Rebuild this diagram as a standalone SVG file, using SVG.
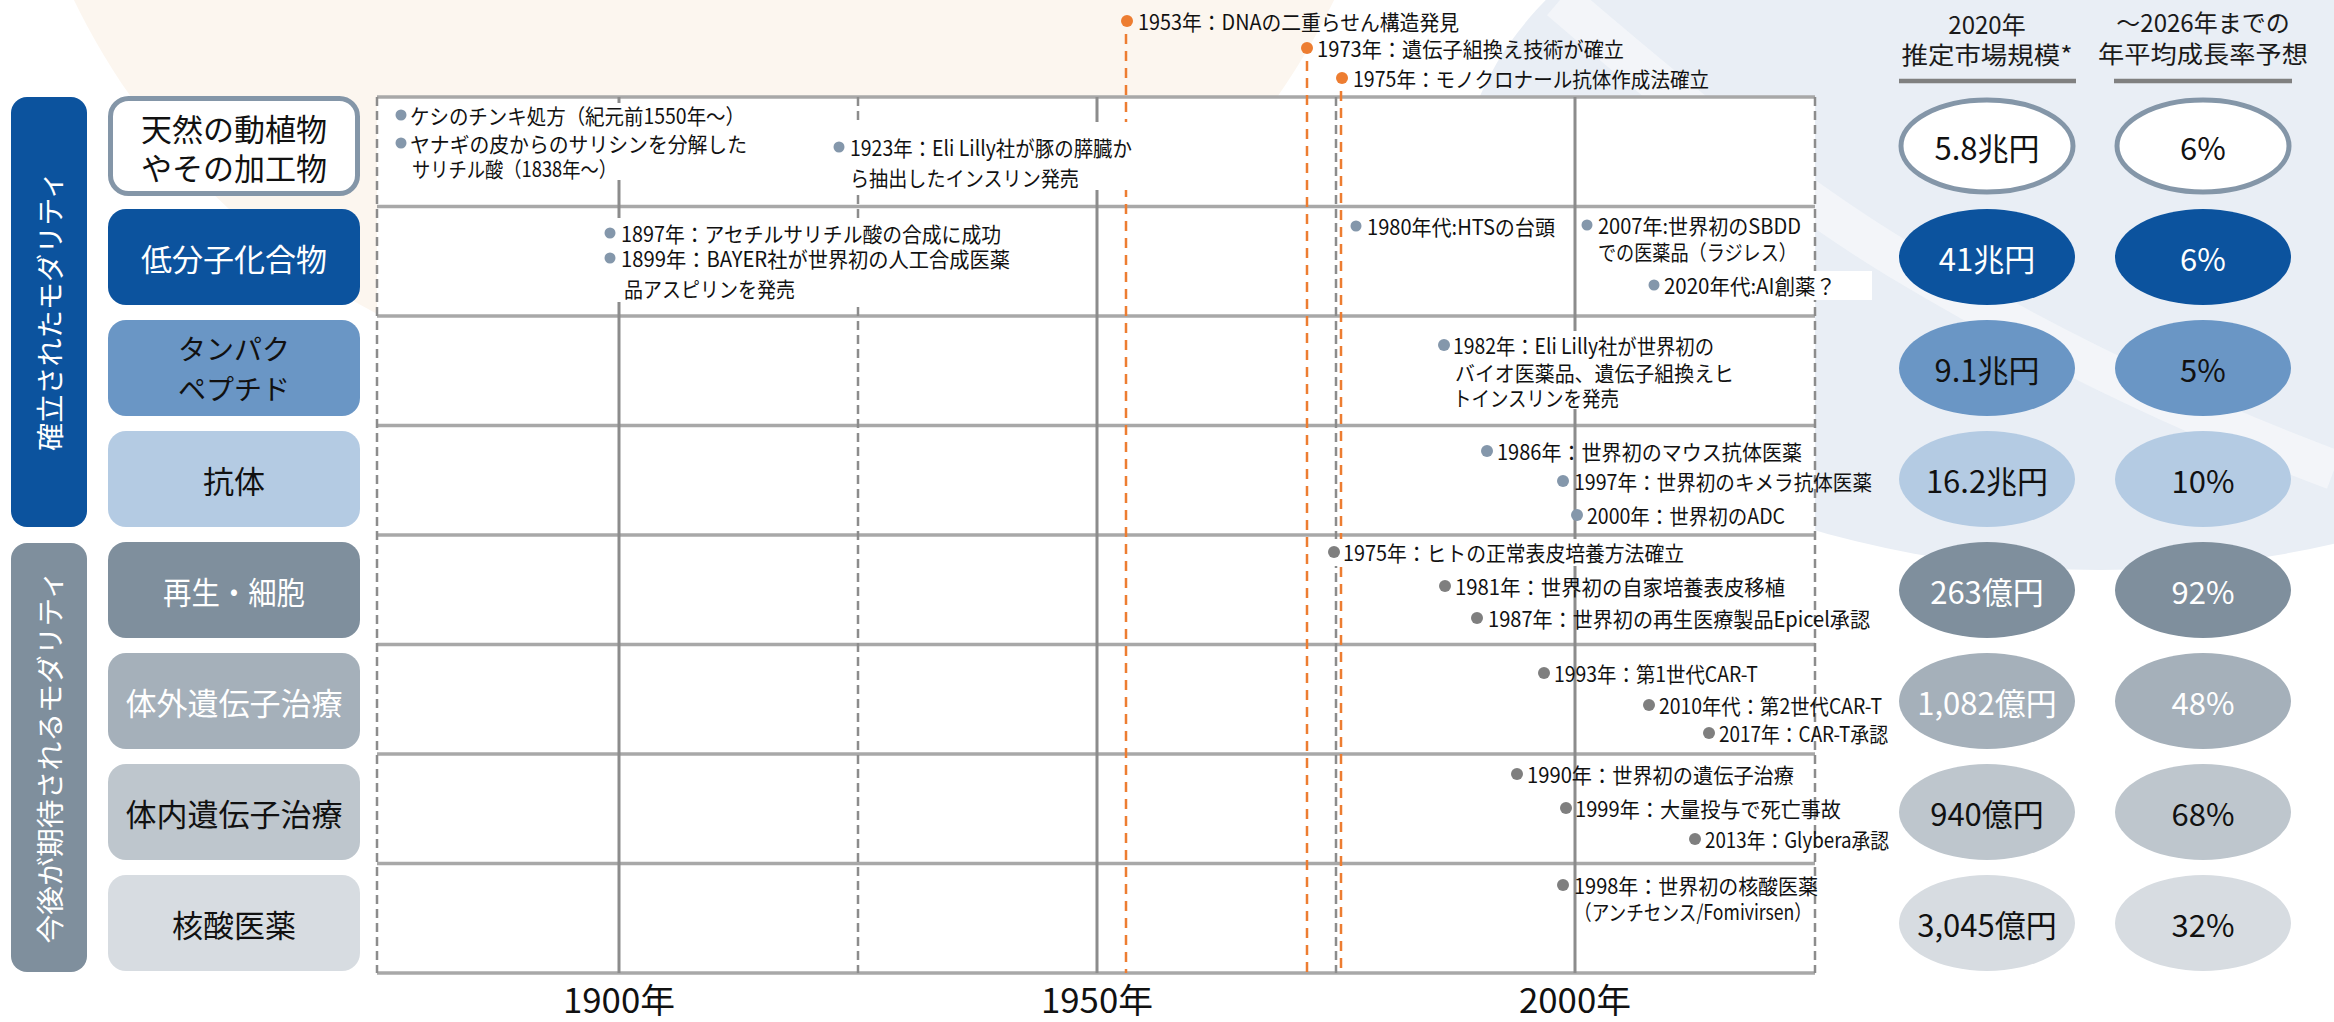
<svg xmlns="http://www.w3.org/2000/svg" width="2334" height="1022" viewBox="0 0 2334 1022">
<defs>
<style>
text{font-family:"Noto Sans CJK JP","Noto Sans",sans-serif;}
.ev{font-size:21px;fill:#111;dominant-baseline:central;}
.box{font-size:31px;text-anchor:middle;dominant-baseline:central;}
.bar{font-size:28px;fill:#fff;text-anchor:middle;dominant-baseline:central;}
.val{font-size:31px;text-anchor:middle;dominant-baseline:central;}
.hd{font-size:24px;fill:#1a1a1a;text-anchor:middle;dominant-baseline:central;}
.ax{font-size:34px;fill:#111;text-anchor:middle;}
.hl{stroke:#a8a8a8;stroke-width:3.5;fill:none;}
.vs{stroke:#8c8c8c;stroke-width:3;fill:none;}
.vd{stroke:#8c8c8c;stroke-width:2.5;stroke-dasharray:9 5;fill:none;}
.or{stroke:#ed7d31;stroke-width:2.5;stroke-dasharray:10 7;fill:none;}
.db{fill:#8497ab;}
.dg{fill:#7f7f7f;}
.do{fill:#ed7d31;}
.wb{fill:#fff;}
.w{fill:#fff;}
.k{fill:#111;}
</style>
</defs>

<g id="background">
<rect x="0" y="0" width="2334" height="1022" fill="#ffffff"/>
<circle cx="704" cy="-305" r="700" fill="#fcf6ef"/>
<ellipse cx="2100" cy="190" rx="640" ry="380" fill="#e9eef5"/>
<path d="M1560,0 C1700,120 1800,200 1900,260 C2050,350 2200,420 2334,470" stroke="#f6f8fb" stroke-width="40" fill="none" opacity="0.7"/>
</g>

<g id="grid">
<rect x="377" y="97" width="1438" height="876" fill="#ffffff"/>
<g id="hlines">
<line class="hl" x1="377" y1="97" x2="1815" y2="97"/>
<line class="hl" x1="377" y1="206.5" x2="1815" y2="206.5"/>
<line class="hl" x1="377" y1="316" x2="1815" y2="316"/>
<line class="hl" x1="377" y1="425.5" x2="1815" y2="425.5"/>
<line class="hl" x1="377" y1="535" x2="1815" y2="535"/>
<line class="hl" x1="377" y1="644.5" x2="1815" y2="644.5"/>
<line class="hl" x1="377" y1="754" x2="1815" y2="754"/>
<line class="hl" x1="377" y1="863.5" x2="1815" y2="863.5"/>
<line class="hl" x1="377" y1="973" x2="1815" y2="973"/>
</g>
<g id="vlines">
<line class="vd" x1="377" y1="97" x2="377" y2="973"/>
<line class="vs" x1="619" y1="97" x2="619" y2="973"/>
<line class="vd" x1="858" y1="97" x2="858" y2="973"/>
<line class="vs" x1="1097" y1="97" x2="1097" y2="973"/>
<line class="vd" x1="1336" y1="97" x2="1336" y2="973"/>
<line class="vs" x1="1575" y1="97" x2="1575" y2="973"/>
<line class="vd" x1="1815" y1="97" x2="1815" y2="973"/>
</g>
</g>

<g id="connectors">
<line class="or" x1="1126" y1="34" x2="1126" y2="973"/>
<line class="or" x1="1307" y1="61" x2="1307" y2="973"/>
<line class="or" x1="1341" y1="91" x2="1341" y2="973"/>
</g>

<g id="axis-labels">
<text class="ax" x="619" y="1013" textLength="112" lengthAdjust="spacingAndGlyphs">1900年</text>
<text class="ax" x="1097" y="1013" textLength="112" lengthAdjust="spacingAndGlyphs">1950年</text>
<text class="ax" x="1575" y="1013" textLength="112" lengthAdjust="spacingAndGlyphs">2000年</text>
</g>

<g id="milestones">
<circle class="do" cx="1127" cy="21" r="6"/>
<text class="ev" x="1138" y="21" textLength="321" lengthAdjust="spacingAndGlyphs">1953年：DNAの二重らせん構造発見</text>
<circle class="do" cx="1307" cy="48" r="6"/>
<text class="ev" x="1317" y="48" textLength="307" lengthAdjust="spacingAndGlyphs">1973年：遺伝子組換え技術が確立</text>
<circle class="do" cx="1342" cy="78" r="6"/>
<text class="ev" x="1353" y="78" textLength="356" lengthAdjust="spacingAndGlyphs">1975年：モノクロナール抗体作成法確立</text>
</g>

<g id="events-row1">
<rect class="wb" x="392" y="103" width="358" height="77"/>
<rect class="wb" x="830" y="122" width="305" height="68"/>
<circle class="db" cx="401" cy="115" r="5.5"/>
<text class="ev" x="410" y="115" textLength="335" lengthAdjust="spacingAndGlyphs">ケシのチンキ処方（紀元前1550年～）</text>
<circle class="db" cx="401" cy="143" r="5.5"/>
<text class="ev" x="410" y="143" textLength="337" lengthAdjust="spacingAndGlyphs">ヤナギの皮からのサリシンを分解した</text>
<text class="ev" x="412" y="168" textLength="205" lengthAdjust="spacingAndGlyphs">サリチル酸（1838年～）</text>
<circle class="db" cx="839" cy="147" r="5.5"/>
<text class="ev" x="850" y="147" textLength="282" lengthAdjust="spacingAndGlyphs">1923年：Eli Lilly社が豚の膵臓か</text>
<text class="ev" x="850" y="177" textLength="229" lengthAdjust="spacingAndGlyphs">ら抽出したインスリン発売</text>
</g>

<g id="events-row2">
<rect class="wb" x="600" y="218" width="413" height="84"/>
<rect class="wb" x="1645" y="271" width="227" height="29"/>
<circle class="db" cx="610" cy="233" r="5.5"/>
<text class="ev" x="621" y="233" textLength="380" lengthAdjust="spacingAndGlyphs">1897年：アセチルサリチル酸の合成に成功</text>
<circle class="db" cx="610" cy="258" r="5.5"/>
<text class="ev" x="621" y="258" textLength="389" lengthAdjust="spacingAndGlyphs">1899年：BAYER社が世界初の人工合成医薬</text>
<text class="ev" x="624" y="288" textLength="171" lengthAdjust="spacingAndGlyphs">品アスピリンを発売</text>
<circle class="db" cx="1356" cy="226" r="5.5"/>
<text class="ev" x="1367" y="226" textLength="188" lengthAdjust="spacingAndGlyphs">1980年代:HTSの台頭</text>
<circle class="db" cx="1587" cy="225" r="5.5"/>
<text class="ev" x="1598" y="225" textLength="203" lengthAdjust="spacingAndGlyphs">2007年:世界初のSBDD</text>
<text class="ev" x="1598" y="251" textLength="199" lengthAdjust="spacingAndGlyphs">での医薬品（ラジレス）</text>
<circle class="db" cx="1654" cy="285" r="5.5"/>
<text class="ev" x="1664" y="285" textLength="172" lengthAdjust="spacingAndGlyphs">2020年代:AI創薬？</text>
</g>

<g id="events-row3">
<rect class="wb" x="1436" y="331" width="304" height="78"/>
<circle class="db" cx="1444" cy="345" r="6"/>
<text class="ev" x="1453" y="345" textLength="261" lengthAdjust="spacingAndGlyphs">1982年：Eli Lilly社が世界初の</text>
<text class="ev" x="1455" y="372" textLength="279" lengthAdjust="spacingAndGlyphs">バイオ医薬品、遺伝子組換えヒ</text>
<text class="ev" x="1453" y="397" textLength="166" lengthAdjust="spacingAndGlyphs">トインスリンを発売</text>
</g>

<g id="events-row4">
<circle class="db" cx="1487" cy="451" r="6"/>
<text class="ev" x="1497" y="451" textLength="305" lengthAdjust="spacingAndGlyphs">1986年：世界初のマウス抗体医薬</text>
<circle class="db" cx="1563" cy="481" r="6"/>
<text class="ev" x="1574" y="481" textLength="298" lengthAdjust="spacingAndGlyphs">1997年：世界初のキメラ抗体医薬</text>
<circle class="db" cx="1577" cy="515" r="6"/>
<text class="ev" x="1587" y="515" textLength="198" lengthAdjust="spacingAndGlyphs">2000年：世界初のADC</text>
</g>

<g id="events-row5">
<rect class="wb" x="1326" y="539" width="364" height="27"/>
<circle class="dg" cx="1334" cy="552" r="6"/>
<text class="ev" x="1343" y="552" textLength="341" lengthAdjust="spacingAndGlyphs">1975年：ヒトの正常表皮培養方法確立</text>
<circle class="dg" cx="1445" cy="586" r="6"/>
<text class="ev" x="1455" y="586" textLength="330" lengthAdjust="spacingAndGlyphs">1981年：世界初の自家培養表皮移植</text>
<circle class="dg" cx="1477" cy="618" r="6"/>
<text class="ev" x="1488" y="618" textLength="382" lengthAdjust="spacingAndGlyphs">1987年：世界初の再生医療製品Epicel承認</text>
</g>

<g id="events-row6">
<circle class="dg" cx="1544" cy="673" r="6"/>
<text class="ev" x="1554" y="673" textLength="204" lengthAdjust="spacingAndGlyphs">1993年：第1世代CAR-T</text>
<circle class="dg" cx="1649" cy="705" r="6"/>
<text class="ev" x="1659" y="705" textLength="223" lengthAdjust="spacingAndGlyphs">2010年代：第2世代CAR-T</text>
<circle class="dg" cx="1709" cy="733" r="6"/>
<text class="ev" x="1719" y="733" textLength="169" lengthAdjust="spacingAndGlyphs">2017年：CAR-T承認</text>
</g>

<g id="events-row7">
<circle class="dg" cx="1517" cy="774" r="6"/>
<text class="ev" x="1527" y="774" textLength="267" lengthAdjust="spacingAndGlyphs">1990年：世界初の遺伝子治療</text>
<circle class="dg" cx="1566" cy="808" r="6"/>
<text class="ev" x="1575" y="808" textLength="266" lengthAdjust="spacingAndGlyphs">1999年：大量投与で死亡事故</text>
<circle class="dg" cx="1695" cy="839" r="6"/>
<text class="ev" x="1705" y="839" textLength="184" lengthAdjust="spacingAndGlyphs">2013年：Glybera承認</text>
</g>

<g id="events-row8">
<circle class="dg" cx="1563" cy="885" r="6"/>
<text class="ev" x="1574" y="885" textLength="244" lengthAdjust="spacingAndGlyphs">1998年：世界初の核酸医薬</text>
<text class="ev" x="1574" y="911" textLength="238" lengthAdjust="spacingAndGlyphs">（アンチセンス/Fomivirsen）</text>
</g>

<g id="group-established">
<rect x="11" y="97" width="76" height="430" rx="16" fill="#0c539e"/>
<text class="bar" transform="translate(49,311) rotate(-90)" x="0" y="0" textLength="280" lengthAdjust="spacingAndGlyphs">確立されたモダリティ</text>
</g>
<g id="group-expected">
<rect x="11" y="543" width="76" height="429" rx="16" fill="#7f8f9d"/>
<text class="bar" transform="translate(49,757) rotate(-90)" x="0" y="0" textLength="373" lengthAdjust="spacingAndGlyphs">今後が期待されるモダリティ</text>
</g>

<g id="node-natural">
<rect x="110.5" y="98.5" width="247" height="95" rx="18" fill="#ffffff" stroke="#8496a8" stroke-width="5"/>
<text class="box k" x="234" y="127">天然の動植物</text>
<text class="box k" x="234" y="166">やその加工物</text>
</g>
<g id="node-small">
<rect x="108" y="209" width="252" height="96" rx="18" fill="#0c539e"/>
<text class="box w" x="234" y="257">低分子化合物</text>
</g>
<g id="node-protein">
<rect x="108" y="320" width="252" height="96" rx="18" fill="#6a96c5"/>
<text class="box k" x="234" y="348" style="font-size:28px">タンパク</text>
<text class="box k" x="234" y="388" style="font-size:28px">ペプチド</text>
</g>
<g id="node-antibody">
<rect x="108" y="431" width="252" height="96" rx="18" fill="#b4cbe3"/>
<text class="box k" x="234" y="479">抗体</text>
</g>
<g id="node-cell">
<rect x="108" y="542" width="252" height="96" rx="18" fill="#7f8f9d"/>
<text class="box w" x="234" y="590" textLength="142" lengthAdjust="spacingAndGlyphs">再生・細胞</text>
</g>
<g id="node-exvivo">
<rect x="108" y="653" width="252" height="96" rx="18" fill="#a5b0ba"/>
<text class="box w" x="234" y="701">体外遺伝子治療</text>
</g>
<g id="node-invivo">
<rect x="108" y="764" width="252" height="96" rx="18" fill="#bec6cd"/>
<text class="box k" x="234" y="812">体内遺伝子治療</text>
</g>
<g id="node-nucleic">
<rect x="108" y="875" width="252" height="96" rx="18" fill="#d7dce1"/>
<text class="box k" x="234" y="923">核酸医薬</text>
</g>

<g id="headers">
<text class="hd" x="1987" y="23">2020年</text>
<text class="hd" x="1987" y="53" textLength="171" lengthAdjust="spacingAndGlyphs">推定市場規模*</text>
<line x1="1899" y1="81" x2="2076" y2="81" stroke="#808080" stroke-width="4.5"/>
<text class="hd" x="2203" y="21">～2026年までの</text>
<text class="hd" x="2203" y="52" textLength="210" lengthAdjust="spacingAndGlyphs">年平均成長率予想</text>
<line x1="2114" y1="81" x2="2292" y2="81" stroke="#808080" stroke-width="4.5"/>
</g>

<g id="market">
<ellipse cx="1987" cy="146" rx="86" ry="46" fill="#ffffff" stroke="#8496a8" stroke-width="5"/>
<text class="val k" x="1987" y="146">5.8兆円</text>
<ellipse cx="1987" cy="257" rx="88" ry="48" fill="#0c539e"/>
<text class="val w" x="1987" y="257">41兆円</text>
<ellipse cx="1987" cy="368" rx="88" ry="48" fill="#6a96c5"/>
<text class="val k" x="1987" y="368">9.1兆円</text>
<ellipse cx="1987" cy="479" rx="88" ry="48" fill="#b4cbe3"/>
<text class="val k" x="1987" y="479">16.2兆円</text>
<ellipse cx="1987" cy="590" rx="88" ry="48" fill="#7f8f9d"/>
<text class="val w" x="1987" y="590">263億円</text>
<ellipse cx="1987" cy="701" rx="88" ry="48" fill="#a5b0ba"/>
<text class="val w" x="1987" y="701">1,082億円</text>
<ellipse cx="1987" cy="812" rx="88" ry="48" fill="#bec6cd"/>
<text class="val k" x="1987" y="812">940億円</text>
<ellipse cx="1987" cy="923" rx="88" ry="48" fill="#d7dce1"/>
<text class="val k" x="1987" y="923">3,045億円</text>
</g>

<g id="growth">
<ellipse cx="2203" cy="146" rx="86" ry="46" fill="#ffffff" stroke="#8496a8" stroke-width="5"/>
<text class="val k" x="2203" y="146">6%</text>
<ellipse cx="2203" cy="257" rx="88" ry="48" fill="#0c539e"/>
<text class="val w" x="2203" y="257">6%</text>
<ellipse cx="2203" cy="368" rx="88" ry="48" fill="#6a96c5"/>
<text class="val k" x="2203" y="368">5%</text>
<ellipse cx="2203" cy="479" rx="88" ry="48" fill="#b4cbe3"/>
<text class="val k" x="2203" y="479">10%</text>
<ellipse cx="2203" cy="590" rx="88" ry="48" fill="#7f8f9d"/>
<text class="val w" x="2203" y="590">92%</text>
<ellipse cx="2203" cy="701" rx="88" ry="48" fill="#a5b0ba"/>
<text class="val w" x="2203" y="701">48%</text>
<ellipse cx="2203" cy="812" rx="88" ry="48" fill="#bec6cd"/>
<text class="val k" x="2203" y="812">68%</text>
<ellipse cx="2203" cy="923" rx="88" ry="48" fill="#d7dce1"/>
<text class="val k" x="2203" y="923">32%</text>
</g>
</svg>
